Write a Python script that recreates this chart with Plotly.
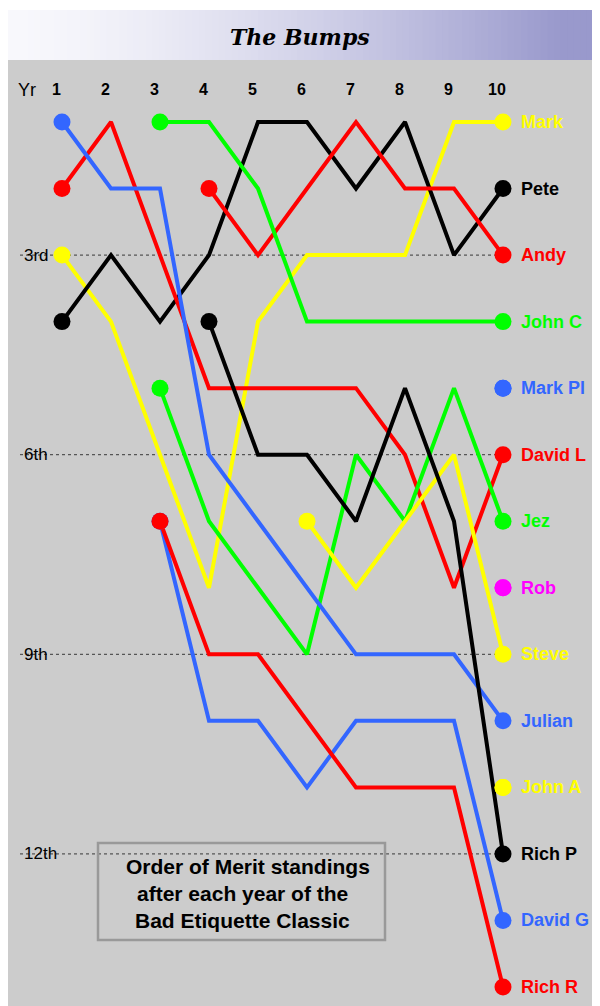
import plotly.graph_objects as go

# ---------------- data ----------------
years = [1, 2, 3, 4, 5, 6, 7, 8, 9, 10]
year_labels = ["1", "2", "3", "4", "5", "6", "7", "8", "9", "10"]

names = ["Mark", "Pete", "Andy", "John C", "Mark Pl", "David L", "Jez", "Rob",
         "Steve", "Julian", "John A", "Rich P", "David G", "Rich R"]
colors = ["#ffff00", "#000000", "#ff0000", "#00ff00", "#3366ff", "#ff0000", "#00ff00",
          "#ff00ff", "#ffff00", "#3366ff", "#ffff00", "#000000", "#3366ff", "#ff0000"]
first_year = [1, 1, 4, 3, 10, 1, 3, 10, 6, 1, 10, 4, 3, 3]

mark = [3, 4, 6, 8, 4, 3, 3, 3, 1, 1]
pete = [4, 3, 4, 3, 1, 1, 2, 1, 3, 2]
andy = [2, 3, 2, 1, 2, 2, 3]
john_c = [1, 1, 2, 4, 4, 4, 4, 4]
mark_pl = [5]
david_l = [2, 1, 3, 5, 5, 5, 5, 6, 8, 6]
jez = [5, 7, 8, 9, 6, 7, 5, 7]
rob = [8]
steve = [7, 8, 7, 6, 9]
julian = [1, 2, 2, 6, 7, 8, 9, 9, 9, 10]
john_a = [11]
rich_p = [4, 6, 6, 7, 5, 7, 12]
david_g = [7, 10, 10, 11, 10, 10, 10, 13]
rich_r = [7, 9, 9, 10, 11, 11, 11, 14]

ranks = [mark, pete, andy, john_c, mark_pl, david_l, jez, rob,
         steve, julian, john_a, rich_p, david_g, rich_r]

guide_ranks = [3, 6, 9, 12]
guide_labels = ["3rd", "6th", "9th", "12th"]

title = "The Bumps"
note_lines = ["Order of Merit standings", "after each year of the", "Bad Etiquette Classic"]

# ---------------- geometry (page pixels; body margin 8px) ----------------
OFF = 8
W, H = 592, 998
X1_PX, YEAR_PX = 62 - OFF, 49.0       # figure pixel of year 1, px per year
R1_PX, RANK_PX = 122 - OFF, 66.54     # figure pixel of rank 1, px per rank

xrange_ = [1 - X1_PX / YEAR_PX, 1 + (W - X1_PX) / YEAR_PX]
yrange_ = [1 + (H - R1_PX) / RANK_PX, 1 - R1_PX / RANK_PX]


def dx(page_px):  # data x from page pixel
    return 1 + (page_px - OFF - X1_PX) / YEAR_PX


def fx(page_px):  # paper x from page pixel
    return (page_px - OFF) / W


def fy(page_py):  # paper y from page pixel
    return 1 - (page_py - OFF) / H


FONT = "Liberation Sans, Arial, sans-serif"

fig = go.Figure()
shapes = []
annotations = []

# grey panel
shapes.append(dict(type="rect", xref="paper", yref="paper", x0=0, x1=1.01,
                   y0=-0.01, y1=fy(60), fillcolor="#cccccc", line_width=0, layer="below"))

# banner gradient
n = 90
c0 = (248, 248, 252)
c1 = (153, 153, 204)
x_start, x_end = 8, 600
for i in range(n):
    a = x_start + (x_end - x_start) * i / n
    b = x_start + (x_end - x_start) * (i + 1) / n
    mid = (a + b) / 2
    t = min(1.0, max(0.0, (mid - 8) / (560 - 8))) ** 1.5
    col = tuple(round(c0[k] + (c1[k] - c0[k]) * t) for k in range(3))
    shapes.append(dict(type="rect", xref="paper", yref="paper", x0=fx(a), x1=fx(b) + 0.002,
                       y0=fy(60), y1=fy(10), fillcolor="rgb(%d,%d,%d)" % col,
                       line_width=0, layer="below"))

annotations.append(dict(text="<b><i>%s</i></b>" % title, xref="paper", yref="paper",
                        x=fx(300), y=fy(37), xanchor="center", yanchor="middle",
                        showarrow=False,
                        font=dict(family="DejaVu Serif", size=22, color="#000000")))

# dotted guide lines + labels
for r, lab in zip(guide_ranks, guide_labels):
    shapes.append(dict(type="line", xref="x", yref="y", x0=dx(20), x1=10, y0=r, y1=r,
                       line=dict(color="#555555", width=1.2, dash="dot"), layer="below"))
    annotations.append(dict(text=lab, xref="paper", yref="y", x=fx(22), y=r,
                            xanchor="left", yanchor="middle", showarrow=False,
                            font=dict(family=FONT, size=17, color="#000000")))

# header
annotations.append(dict(text="Yr", xref="paper", yref="paper", x=fx(16), y=fy(90),
                        xanchor="left", yanchor="middle", showarrow=False,
                        font=dict(family=FONT, size=18, color="#000000")))
for yv, lab in zip(years, year_labels):
    annotations.append(dict(text="<b>%s</b>" % lab, xref="x", yref="paper", x=yv, y=fy(90),
                            xshift=-6, xanchor="center", yanchor="middle", showarrow=False,
                            font=dict(family=FONT, size=16, color="#000000")))

# lines
for nm, col, fyr, rk in zip(names, colors, first_year, ranks):
    xs = list(range(fyr, fyr + len(rk)))
    if len(rk) > 1:
        fig.add_trace(go.Scatter(x=xs, y=rk, mode="lines", name=nm,
                                 line=dict(color=col, width=4), hoverinfo="skip",
                                 showlegend=False))
# markers + end labels
for nm, col, fyr, rk in zip(names, colors, first_year, ranks):
    xs = list(range(fyr, fyr + len(rk)))
    fig.add_trace(go.Scatter(x=[xs[0], xs[-1]], y=[rk[0], rk[-1]], mode="markers",
                             marker=dict(color=col, size=17, line_width=0),
                             showlegend=False, name=nm))
    annotations.append(dict(text="<b>%s</b>" % nm, xref="x", yref="y", x=xs[-1], y=rk[-1],
                            xanchor="left", yanchor="middle", xshift=16, showarrow=False,
                            font=dict(family=FONT, size=18, color=col)))

# note box
shapes.append(dict(type="rect", xref="paper", yref="paper", x0=fx(98), x1=fx(385),
                   y0=fy(940), y1=fy(843), fillcolor="rgba(0,0,0,0)",
                   line=dict(color="#999999", width=2.5), layer="above"))
for i, ln in enumerate(note_lines):
    annotations.append(dict(text="<b>%s</b>" % ln, xref="paper", yref="paper",
                            x=fx(248 if i == 0 else 242), y=fy(866 + 27 * i),
                            xanchor="center", yanchor="middle", showarrow=False,
                            font=dict(family=FONT, size=21, color="#000000")))

fig.update_layout(
    width=W, height=H, margin=dict(l=0, r=0, t=0, b=0),
    paper_bgcolor="#ffffff", plot_bgcolor="rgba(0,0,0,0)",
    xaxis=dict(range=xrange_, visible=False, fixedrange=True),
    yaxis=dict(range=yrange_, visible=False, fixedrange=True),
    shapes=shapes, annotations=annotations, showlegend=False,
)

fig.write_html("out.html")
